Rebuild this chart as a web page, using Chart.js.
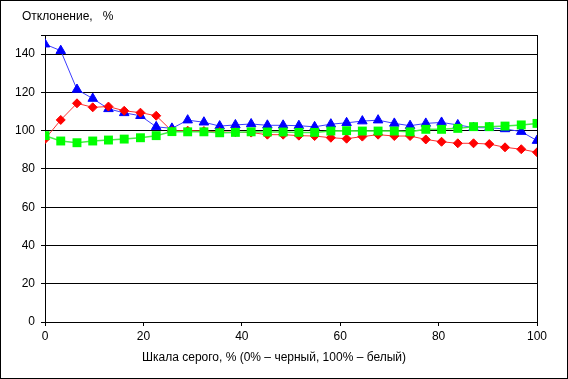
<!DOCTYPE html>
<html>
<head>
<meta charset="utf-8">
<script src="https://cdn.jsdelivr.net/npm/chart.js@4.4.1/dist/chart.umd.min.js"></script>
<style>
  html, body { margin: 0; padding: 0; background: #fff; }
  #wrap { width: 568px; height: 379px; position: relative; }
</style>
</head>
<body>
<div id="wrap"><canvas id="chart" width="568" height="379"></canvas></div>
<script>
// ----------------------
// Data
// ----------------------
const grayLevels = [0, 3.2, 6.5, 9.7, 12.9, 16.1, 19.4, 22.6, 25.8, 29.0, 32.3, 35.5, 38.7, 41.9, 45.2, 48.4,
  51.6, 54.8, 58.1, 61.3, 64.5, 67.7, 71.0, 74.2, 77.4, 80.6, 83.9, 87.1, 90.3, 93.5, 96.8, 100];

const blueValues = [145.2, 141.8, 121.5, 116.8, 111.4, 109.3, 107.8, 102.0, 101.2, 105.5, 104.4, 102.4, 103.0, 103.5, 102.8, 102.8,
  102.6, 102.0, 103.4, 104.1, 105.0, 105.5, 103.8, 102.6, 103.8, 104.3, 103.0, 101.6, 101.5, 100.9, 99.5, 94.8];

const redValues = [95.6, 105.6, 114.3, 112.2, 112.6, 110.4, 109.4, 107.8, 99.8, 100.0, 99.8, 99.3, 99.2, 99.0, 97.9, 97.9,
  97.4, 97.2, 96.3, 95.8, 96.9, 97.9, 97.2, 97.2, 95.4, 94.2, 93.4, 93.4, 93.0, 91.3, 90.3, 88.7];

const greenValues = [97.4, 94.6, 93.7, 94.6, 95.1, 95.6, 96.3, 97.4, 99.5, 99.4, 99.4, 98.9, 99.1, 99.4, 99.3, 99.3,
  99.1, 99.1, 99.8, 100.0, 99.8, 99.8, 99.8, 99.4, 100.7, 100.7, 101.2, 102.1, 102.1, 102.4, 103.0, 103.8];

const yTicks = [0, 20, 40, 60, 80, 100, 120, 140];
const xTicks = [0, 20, 40, 60, 80, 100];

const yTitle = "Отклонение,   %";
const xTitle = "Шкала серого, % (0% – черный, 100% – белый)";

const FONT = "Liberation Sans, Arial, sans-serif";

function toPoints(vals) {
  return vals.map((v, i) => ({ x: grayLevels[i], y: v }));
}

// ----------------------
// Extra text + frame
// ----------------------
const framePlugin = {
  id: "frame",
  afterDraw(chart) {
    const ctx = chart.ctx;
    ctx.save();
    ctx.strokeStyle = "#000";
    ctx.lineWidth = 1;
    ctx.strokeRect(0.5, 0.5, chart.width - 1, chart.height - 1);
    ctx.fillStyle = "#000";
    ctx.font = "12px " + FONT;
    ctx.textBaseline = "middle";
    ctx.textAlign = "left";
    ctx.fillText(yTitle, 22, 17);
    ctx.textAlign = "center";
    ctx.fillText(xTitle, 274, 358);
    ctx.restore();
  }
};

const ctx = document.getElementById("chart").getContext("2d");
new Chart(ctx, {
  type: "line",
  data: {
    datasets: [
      {
        label: "green",
        data: toPoints(greenValues),
        borderColor: "#44ee44",
        backgroundColor: "#00ff00",
        pointBorderColor: "#00ff00",
        borderWidth: 1.5,
        pointStyle: "rect",
        pointRadius: 6.3,
        pointBorderWidth: 0,
        tension: 0
      },
      {
        label: "red",
        data: toPoints(redValues),
        borderColor: "#ff3030",
        backgroundColor: "#ff0000",
        pointBorderColor: "#ff0000",
        borderWidth: 1,
        pointStyle: "rectRot",
        pointRadius: 4.5,
        pointBorderWidth: 1,
        tension: 0
      },
      {
        label: "blue",
        data: toPoints(blueValues),
        borderColor: "#3c3cff",
        backgroundColor: "#0000ff",
        pointBorderColor: "#0000ff",
        borderWidth: 1,
        pointStyle: "triangle",
        pointRadius: 5.5,
        pointBorderWidth: 1,
        tension: 0
      }
    ]
  },
  options: {
    responsive: false,
    animation: false,
    layout: { padding: { left: 0, right: 31, top: 35, bottom: 0 } },
    plugins: {
      legend: { display: false },
      title: { display: false },
      tooltip: { enabled: false }
    },
    scales: {
      x: {
        type: "linear",
        min: 0,
        max: 100,
        afterBuildTicks: (s) => { s.ticks = xTicks.map(v => ({ value: v })); },
        afterFit: (s) => { s.height = 57; },
        border: { display: true, color: "#000", width: 1 },
        grid: {
          drawOnChartArea: true,
          color: (c) => (c.tick && c.tick.value === 100 ? "#000" : "rgba(0,0,0,0)"),
          tickColor: "#000",
          tickLength: 4,
          lineWidth: 1
        },
        ticks: {
          color: "#000",
          font: { family: FONT, size: 12 },
          padding: 3,
          maxRotation: 0
        }
      },
      y: {
        type: "linear",
        min: 0,
        max: 150,
        afterBuildTicks: (s) => { s.ticks = yTicks.concat([150]).map(v => ({ value: v })); },
        afterFit: (s) => { s.width = 45; },
        border: { display: true, color: "#000", width: 1 },
        grid: {
          color: "#000",
          tickColor: "#000",
          tickLength: 4,
          lineWidth: 1
        },
        ticks: {
          color: "#000",
          font: { family: FONT, size: 12 },
          padding: 6,
          callback: (v) => (v === 150 ? "" : v)
        }
      }
    }
  },
  plugins: [framePlugin]
});
</script>
</body>
</html>
